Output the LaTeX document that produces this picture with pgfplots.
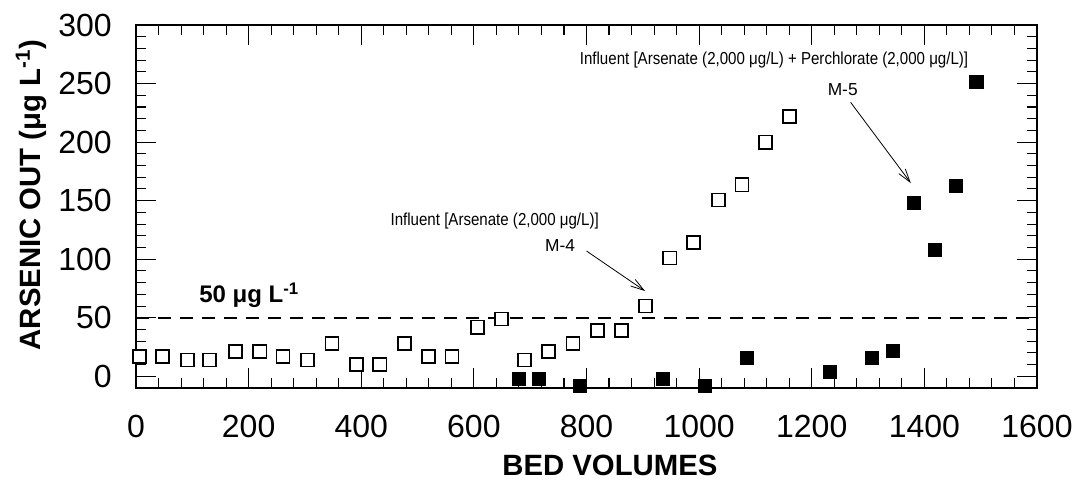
\documentclass[border=0pt]{standalone}
\usepackage{fontspec}
\setmainfont{Liberation Sans}
\usepackage{pgfplots}
\pgfplotsset{compat=1.18}
\usetikzlibrary{arrows.meta}
\begin{document}
\begin{tikzpicture}
\path[use as bounding box] (-102pt,-69pt) rectangle (709.5pt,291pt);
\begin{axis}[
  scale only axis,
  width=675.75pt, height=272.25pt,
  xmin=0, xmax=1600, ymin=-10, ymax=300,
  xtick={0,200,...,1600}, ytick={0,50,...,300},
  minor x tick num=4, minor y tick num=4,
  tick pos=both, tick align=inside,
  major tick length=15pt, minor tick length=7.5pt,
  every tick/.style={black, line width=0.8pt},
  axis line style={line width=1.5pt},
  /pgf/number format/assume math mode=true,
  /pgf/number format/1000 sep={},
  tick label style={font=\fontsize{24}{28}\selectfont},
  xticklabel style={inner sep=0pt, yshift=-20pt},
  yticklabel style={inner sep=0pt, xshift=-18pt},
  xlabel={\textbf{BED VOLUMES}},
  ylabel={\textbf{ARSENIC OUT (μg L\textsuperscript{-1})}},
  label style={font=\fontsize{22}{26}\selectfont},
  xlabel style={at={(axis description cs:0.526,-0.212)}, anchor=center},
  ylabel style={at={(axis description cs:-0.1165,0.532)}, anchor=center},
  clip=false,
]
\addplot[black, line width=1.5pt, dash pattern=on 10pt off 6.5pt] coordinates {(0,50) (1600,50)};
\addplot[only marks, mark=square*, mark size=4.9pt, mark options={fill=white, draw=black, line width=1.3pt}] coordinates {
(6,17) (47,17) (91,14) (131,14) (177,21) (220,21) (261,17) (304,14) (348,28) (391,10) (433,10) (477,28) (520,17) (561,17) (606,42) (649,49) (690,14) (733,21) (776,28) (819,39) (862,39) (905,60) (948,101) (990,114) (1034,150.5) (1076,163.5) (1118,200) (1161,222)
};
\addplot[only marks, mark=square*, mark size=4.9pt, mark options={fill=black, draw=black, line width=0.3pt}] coordinates {
(679,-1.7) (715,-1.7) (788,-8) (936,-1.7) (1010,-8) (1084,16.2) (1232,3.9) (1306,16.2) (1343,22.2) (1381,148.6) (1418,108.1) (1455,162.5) (1492,251.3)
};
\node[font=\fontsize{18}{20}\selectfont\bfseries] at (axis cs:201,69.4) {50 μg L\textsuperscript{-1}};
\node[font=\fontsize{13}{15}\selectfont] at (axis cs:637,132.6) {\scalebox{0.87}[1]{Influent [Arsenate (2,000 μg/L)]}};
\node[font=\fontsize{13}{15}\selectfont] at (axis cs:753,112) {M-4};
\draw[line width=0.6pt, -{Straight Barb[length=10pt,width=6pt]}] (axis cs:800,107) -- (axis cs:904,72.8);
\node[font=\fontsize{13}{15}\selectfont] at (axis cs:1133,270) {\scalebox{0.87}[1]{Influent [Arsenate (2,000 μg/L) + Perchlorate (2,000 μg/L)]}};
\node[font=\fontsize{13}{15}\selectfont] at (axis cs:1255,245) {M-5};
\draw[line width=0.6pt, -{Straight Barb[length=10pt,width=6pt]}] (axis cs:1269,234) -- (axis cs:1376,165);
\end{axis}
\end{tikzpicture}
\end{document}
